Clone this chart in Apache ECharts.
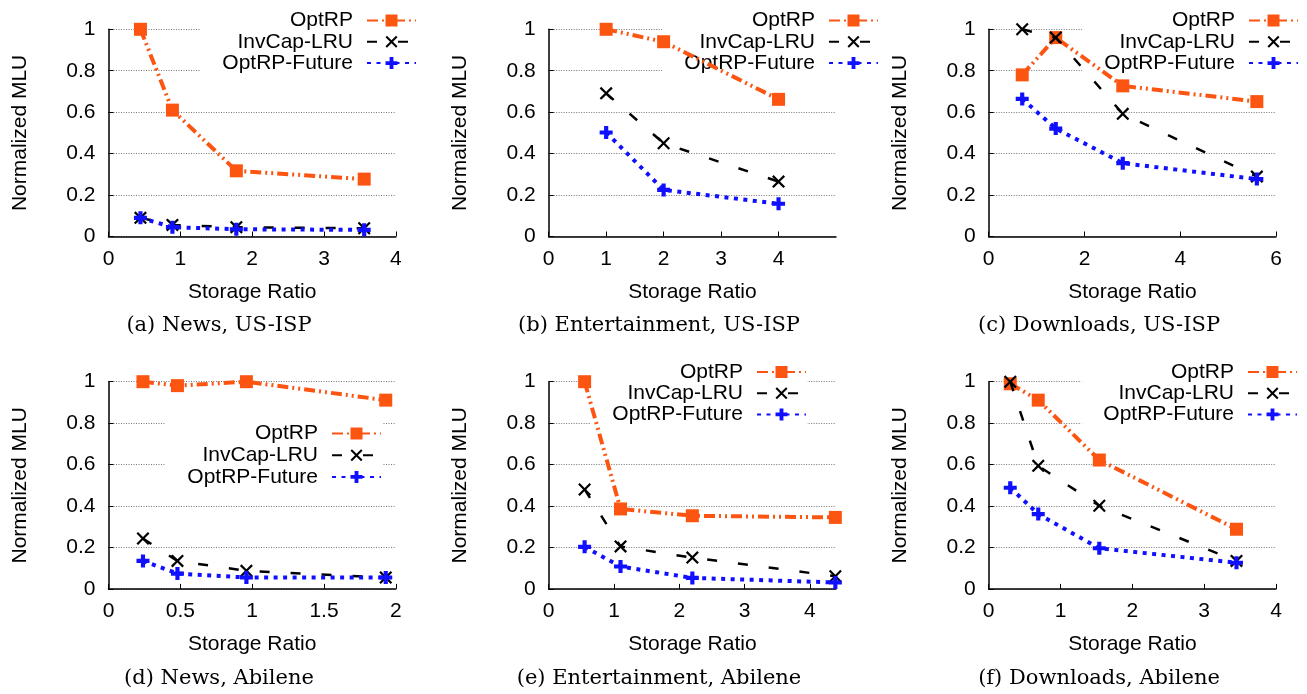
<!DOCTYPE html>
<html>
<head>
<meta charset="utf-8">
<script src="https://cdn.jsdelivr.net/npm/echarts@6/dist/echarts.min.js"></script>
<style>
html,body{margin:0;padding:0;background:#fff;}
#chart{width:1307px;height:694px;}
</style>
</head>
<body>
<div id="chart"></div>
<script>
// ---------- data ----------
const seriesNames = ['OptRP', 'InvCap-LRU', 'OptRP-Future'];
const captions = ['(a) News, US-ISP', '(b) Entertainment, US-ISP', '(c) Downloads, US-ISP',
                  '(d) News, Abilene', '(e) Entertainment, Abilene', '(f) Downloads, Abilene'];
const xAxisMax = [4, 5, 6, 2, 4.4, 4];
const xAxisStep = [1, 1, 2, 0.5, 1, 1];
const yTicks = [0, 0.2, 0.4, 0.6, 0.8, 1];

const xA = [0.445, 0.89, 1.78, 3.56];
const optA = [1.0, 0.61, 0.317, 0.277];
const invA = [0.09, 0.056, 0.045, 0.04];
const futA = [0.09, 0.045, 0.035, 0.032];

const xB = [1, 2, 4];
const optB = [1.0, 0.94, 0.662];
const invB = [0.691, 0.45, 0.265];
const futB = [0.502, 0.225, 0.158];

const xC = [0.7, 1.4, 2.8, 5.6];
const optC = [0.78, 0.96, 0.727, 0.651];
const invC = [1.0, 0.96, 0.592, 0.289];
const futC = [0.664, 0.521, 0.354, 0.277];

const xD = [0.24, 0.48, 0.96, 1.93];
const optD = [1.0, 0.981, 1.0, 0.911];
const invD = [0.243, 0.135, 0.087, 0.055];
const futD = [0.135, 0.074, 0.055, 0.055];

const xE = [0.55, 1.1, 2.2, 4.39];
const optE = [1.0, 0.386, 0.353, 0.345];
const invE = [0.48, 0.205, 0.151, 0.061];
const futE = [0.203, 0.108, 0.053, 0.031];

const xF = [0.3, 0.69, 1.54, 3.45];
const optF = [0.99, 0.911, 0.622, 0.288];
const invF = [1.0, 0.594, 0.401, 0.135];
const futF = [0.488, 0.361, 0.196, 0.126];

const panelX = [xA, xB, xC, xD, xE, xF];
const panelVals = [
  [optA, invA, futA], [optB, invB, futB], [optC, invC, futC],
  [optD, invD, futD], [optE, invE, futE], [optF, invF, futF]
];

// ---------- layout & style ----------
const SANS = 'Liberation Sans';
const FS = 21;
const colLeft = [108.5, 548.7, 988.7];
const rowTop = [29.3, 381.7];
const plotW = 287.3, plotH = 207.2;
const captionCx = [219, 659, 1099];
const captionTop = [315, 668];
// legend: right offset of icon end, top of first row
const legendRight = [890, 428, 8, 925, 500, 9];
const legendTop = [10, 10, 10, 423, 361.5, 361.5];
const legendGap = [0.3, 0.3, 0.3, 0.7, 0.2, 0.2];

const ORANGE = '#fc5511';
const BLUE = '#1010ff';
const crossPath = 'path://M0,1.2L1.2,0L5,3.8L8.8,0L10,1.2L6.2,5L10,8.8L8.8,10L5,6.2L1.2,10L0,8.8L3.8,5Z';
const plusPath = 'path://M3.4,0H6.6V3.4H10V6.6H6.6V10H3.4V6.6H0V3.4H3.4Z';

const styles = [
  {color: ORANGE, symbol: 'rect', size: 13, line: {width: 4, type: [11, 4, 2, 4, 2, 4]}},
  {color: '#000', symbol: crossPath, size: 13, line: {width: 2.5, type: [10, 21]}},
  {color: BLUE, symbol: plusPath, size: 13, line: {width: 4, type: [4, 5.5]}}
];

const grids = [], xAxes = [], yAxes = [], series = [], legends = [], titles = [];
for (let p = 0; p < 6; p++) {
  const r = Math.floor(p / 3), c = p % 3;
  grids.push({left: colLeft[c], top: rowTop[r], width: plotW, height: plotH, containLabel: false});
  xAxes.push({
    type: 'value', gridIndex: p, min: 0, max: xAxisMax[p], interval: xAxisStep[p],
    name: 'Storage Ratio', nameLocation: 'middle', nameGap: 45,
    nameTextStyle: {fontFamily: SANS, fontSize: FS, color: '#000'},
    axisLine: {show: true, lineStyle: {color: '#000', width: 1.5}},
    axisTick: {show: true, inside: true, length: 5, lineStyle: {color: '#000', width: 1}},
    axisLabel: {fontFamily: SANS, fontSize: FS, color: '#000', margin: 12,
                showMaxLabel: (xAxisMax[p] % xAxisStep[p] === 0 && p !== 1)},
    splitLine: {show: false}
  });
  yAxes.push({
    type: 'value', gridIndex: p, min: yTicks[0], max: yTicks[yTicks.length - 1], interval: yTicks[1] - yTicks[0],
    name: 'Normalized MLU', nameLocation: 'middle', nameGap: 78,
    nameTextStyle: {fontFamily: SANS, fontSize: FS, color: '#000'},
    axisLine: {show: true, lineStyle: {color: '#000', width: 1.5}},
    axisTick: {show: true, inside: true, length: 5, lineStyle: {color: '#000', width: 1}},
    axisLabel: {fontFamily: SANS, fontSize: FS, color: '#000', margin: 13},
    splitLine: {show: true, lineStyle: {color: '#777', width: 1, type: [1, 1.5]}}
  });
  for (let s = 0; s < 3; s++) {
    const st = styles[s];
    series.push({
      type: 'line', name: seriesNames[s], xAxisIndex: p, yAxisIndex: p,
      data: panelX[p].map((x, i) => [x, panelVals[p][s][i]]),
      symbol: st.symbol, symbolSize: st.size, showAllSymbol: true,
      itemStyle: {color: st.color, borderWidth: 0, opacity: 1},
      lineStyle: {color: st.color, width: st.line.width, type: st.line.type, cap: 'butt'},
      z: 2 + s, animation: false, silent: true
    });
  }
  legends.push({
    orient: 'vertical', align: 'right', right: legendRight[p], top: legendTop[p],
    itemWidth: 49, itemHeight: 15, itemGap: legendGap[p], padding: [0, 0, 6, 22],
    backgroundColor: '#fff', z: 1, selectedMode: false,
    data: seriesNames.slice(),
    textStyle: {fontFamily: SANS, fontSize: FS, color: '#000', padding: [0, 9, 0, 0]}
  });
  titles.push({
    text: captions[p], left: captionCx[c], top: captionTop[r], textAlign: 'center', padding: 0,
    textStyle: {fontFamily: 'DejaVu Serif', fontSize: 21, fontWeight: 'normal', color: '#000'}
  });
}

const chart = echarts.init(document.getElementById('chart'), null, {renderer: 'canvas'});
chart.setOption({
  animation: false,
  backgroundColor: '#fff',
  title: titles,
  grid: grids,
  xAxis: xAxes,
  yAxis: yAxes,
  legend: legends,
  series: series
});
</script>
</body>
</html>
